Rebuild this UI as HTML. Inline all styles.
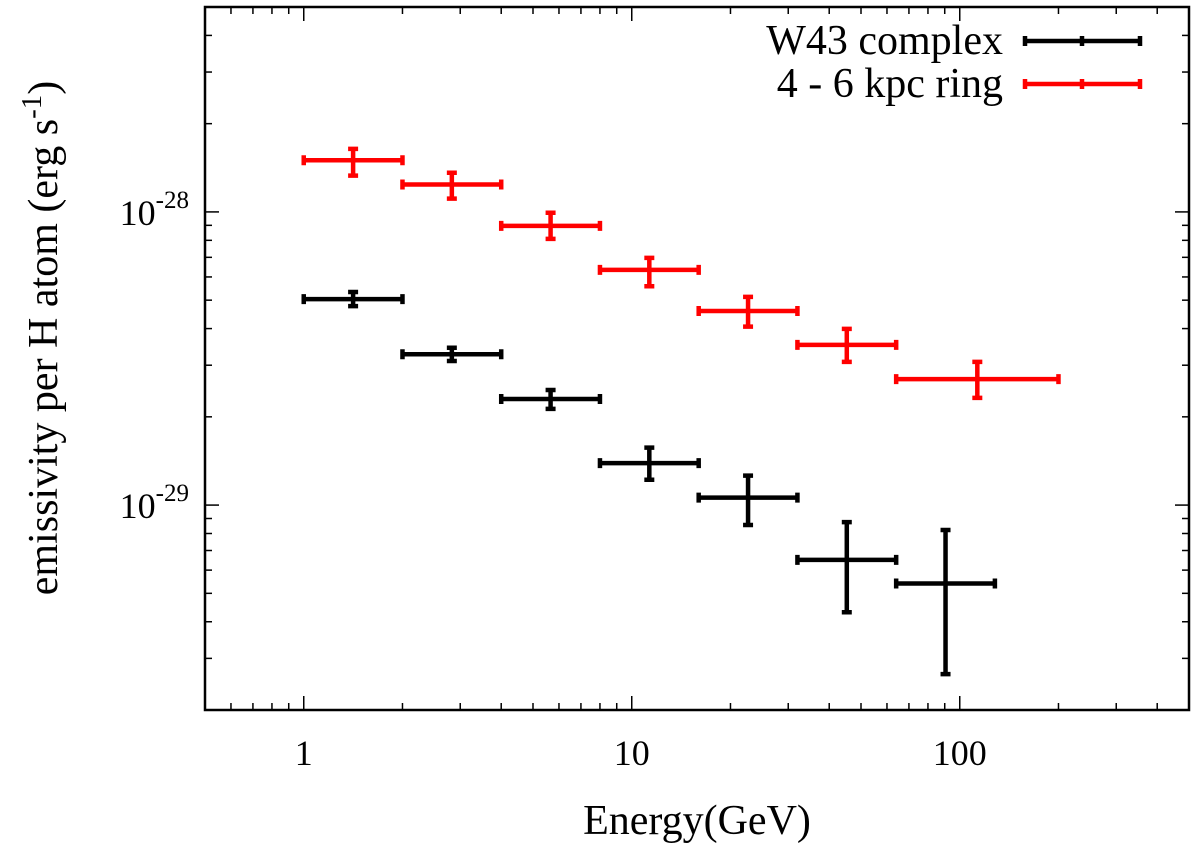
<!DOCTYPE html>
<html><head><meta charset="utf-8"><style>
html,body{margin:0;padding:0;background:#fff;}
svg{display:block;font-family:"Liberation Serif",serif;}
</style></head><body>
<svg id="chart" width="1200" height="845" viewBox="0 0 1200 845">
<g id="grid"></g>
<g id="marks"></g>
</svg>
<script>
const binLow = [1, 2, 4, 8, 16, 32, 64];
const blackHigh = [2, 4, 8, 16, 32, 64, 128];
const redHigh = [2, 4, 8, 16, 32, 64, 200];
const blackVal = [5.04e-29, 3.27e-29, 2.30e-29, 1.39e-29, 1.06e-29, 6.5e-30, 5.4e-30];
const blackErrHi = [5.33e-29, 3.44e-29, 2.47e-29, 1.57e-29, 1.26e-29, 8.75e-30, 8.22e-30];
const blackErrLo = [4.77e-29, 3.10e-29, 2.13e-29, 1.22e-29, 8.55e-30, 4.31e-30, 2.65e-30];
const redVal = [1.50e-28, 1.24e-28, 8.96e-29, 6.34e-29, 4.59e-29, 3.52e-29, 2.69e-29];
const redErrHi = [1.64e-28, 1.36e-28, 9.93e-29, 6.97e-29, 5.13e-29, 3.99e-29, 3.08e-29];
const redErrLo = [1.33e-28, 1.11e-28, 8.09e-29, 5.58e-29, 4.06e-29, 3.08e-29, 2.32e-29];
const xTickLabels = ["1", "10", "100"];
const xTickVals = [1, 10, 100];
const yTickExp = [-28, -29];

const L = 205, R = 1189, T = 7, B = 710;
const xMin = 0.5, xMax = 500, yMin = 2e-30, yMax = 5e-28;
const NS = "http://www.w3.org/2000/svg";
function X(v){return L + (Math.log10(v)-Math.log10(xMin))/(Math.log10(xMax)-Math.log10(xMin))*(R-L);}
function Y(v){return B - (Math.log10(v)-Math.log10(yMin))/(Math.log10(yMax)-Math.log10(yMin))*(B-T);}
const svg = document.getElementById('chart');
const grid = document.getElementById('grid');
const marks = document.getElementById('marks');
function el(tag, attrs, parent){const e=document.createElementNS(NS,tag);for(const k in attrs)e.setAttribute(k,attrs[k]);parent.appendChild(e);return e;}

const frame = el('rect',{x:L,y:T,width:R-L,height:B-T,fill:'none',stroke:'#000','stroke-width':2.5},grid);



for(let d=-1; d<=2; d++){
  for(let m=1; m<=9; m++){
    const v = m*Math.pow(10,d);
    if(v<xMin||v>xMax) continue;
    const x = X(v), len = m===1?14:7;
    const t1 = el('line',{x1:x,y1:B,x2:x,y2:B-len,stroke:'#000','stroke-width':1.5},grid);
    
    
    const t2 = el('line',{x1:x,y1:T,x2:x,y2:T+len,stroke:'#000','stroke-width':1.5},grid);
    
    
  }
}
xTickVals.forEach((v,i)=>{
  const t = el('text',{x:X(v),y:765,'font-size':36,'text-anchor':'middle',fill:'#000'},grid);
  t.textContent = xTickLabels[i];
  
  
});
for(let d=-31; d<=-28; d++){
  for(let m=1; m<=9; m++){
    const v = m*Math.pow(10,d);
    if(v<yMin*0.999||v>yMax*1.001) continue;
    const y = Y(v), len = m===1?14:7;
    const t1 = el('line',{x1:L,y1:y,x2:L+len,y2:y,stroke:'#000','stroke-width':1.5},grid);
    
    
    const t2 = el('line',{x1:R,y1:y,x2:R-len,y2:y,stroke:'#000','stroke-width':1.5},grid);
    
    
  }
}
yTickExp.forEach(e=>{
  const y = Y(Math.pow(10,e));
  const t = el('text',{x:189,y:y+13,'font-size':36,'text-anchor':'end',fill:'#000'},grid);
  t.textContent = '10';
  const s = el('tspan',{dy:-17,'font-size':25},t);
  s.textContent = String(e);
  
  
});

const xt = el('text',{x:697,y:834,'font-size':42,'text-anchor':'middle',fill:'#000'},grid);
xt.textContent='Energy(GeV)';


const yt = el('text',{x:0,y:0,'font-size':42,'text-anchor':'middle',fill:'#000',transform:'translate(57,338) rotate(-90)'},grid);
yt.textContent='emissivity per H atom (erg s';
const ys = el('tspan',{dy:-16,'font-size':29},yt); ys.textContent='-1';
const ye = el('tspan',{dy:16},yt); ye.textContent=')';



function series(lo, hi, val, eHi, eLo, color, name){
  const g = el('g',{},marks);
  
  
  val.forEach((v,i)=>{
    const cx = X(Math.sqrt(lo[i]*hi[i]));
    const x1 = X(lo[i]), x2 = X(hi[i]), y = Y(v), yh=Y(eHi[i]), yl=Y(eLo[i]);
    const p = el('path',{d:`M${x1},${y}H${x2}M${x1},${y-5}V${y+5}M${x2},${y-5}V${y+5}M${cx},${yh}V${yl}M${cx-5},${yh}H${cx+5}M${cx-5},${yl}H${cx+5}`,stroke:color,'stroke-width':4.5,fill:'none'},g);
    
    
  });
}
series(binLow, blackHigh, blackVal, blackErrHi, blackErrLo, '#000', 'w43-series');
series(binLow, redHigh, redVal, redErrHi, redErrLo, '#f00', 'ring-series');

[['W43 complex','#000',41],['4 - 6 kpc ring','#f00',84]].forEach(([lab,c,y])=>{
  const t = el('text',{x:1003,y:y+13,'font-size':42,'text-anchor':'end',fill:'#000'},grid);
  t.textContent = lab;
  
  
  const p = el('path',{d:`M1025,${y}H1140M1025,${y-5}V${y+5}M1140,${y-5}V${y+5}M1082,${y-5}V${y+5}`,stroke:c,'stroke-width':4.5,fill:'none'},grid);
  
  
});
</script>
</body></html>
